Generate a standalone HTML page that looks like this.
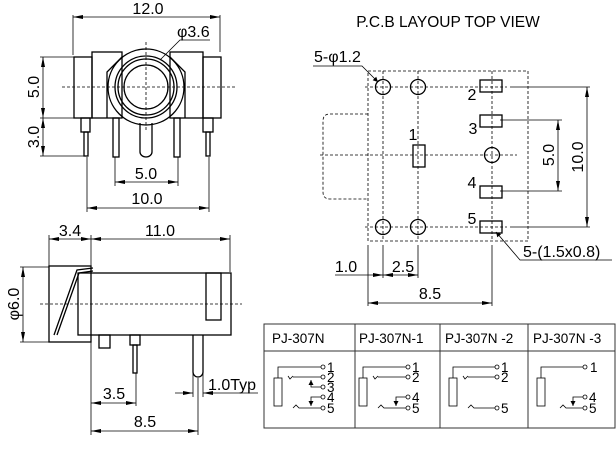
<!DOCTYPE html>
<html><head><style>html,body{margin:0;padding:0;background:#fff}svg{display:block}</style></head><body>
<svg width="616" height="452" viewBox="0 0 616 452" xmlns="http://www.w3.org/2000/svg" font-family="Liberation Sans, sans-serif" fill="none" stroke="#000">
<defs>
<marker id="a" viewBox="0 0 10 4" refX="10" refY="2" markerWidth="10" markerHeight="4" orient="auto-start-reverse" markerUnits="userSpaceOnUse"><path d="M0,0 L10,2 L0,4z" fill="#000" stroke="none"/></marker>
<marker id="s" viewBox="0 0 6 6" refX="6" refY="3" markerWidth="5" markerHeight="5" orient="auto" markerUnits="userSpaceOnUse"><path d="M0,0 L6,3 L0,6z" fill="#000" stroke="none"/></marker>
</defs>
<g stroke-width="0.8">
<line x1="73" y1="15" x2="73" y2="55"/><line x1="220" y1="15" x2="220" y2="52"/>
<line x1="73" y1="17" x2="220" y2="17" marker-start="url(#a)" marker-end="url(#a)"/>
<line x1="40" y1="57" x2="74" y2="57"/><line x1="40" y1="118" x2="74" y2="118"/><line x1="40" y1="156" x2="84" y2="156"/>
<line x1="43" y1="57" x2="43" y2="118" marker-start="url(#a)" marker-end="url(#a)"/>
<line x1="43" y1="118" x2="43" y2="156" marker-start="url(#a)" marker-end="url(#a)"/>
<line x1="115" y1="157" x2="115" y2="186"/><line x1="178" y1="157" x2="178" y2="186"/>
<line x1="115" y1="182" x2="178" y2="182" marker-start="url(#a)" marker-end="url(#a)"/>
<line x1="87" y1="157" x2="87" y2="212"/><line x1="209" y1="157" x2="209" y2="212"/>
<line x1="87" y1="208" x2="209" y2="208" marker-start="url(#a)" marker-end="url(#a)"/>
<polyline points="160,60 180,40 210,40"/>
</g>
<g stroke-width="0.8" stroke-dasharray="3,2"><line x1="62" y1="87" x2="237" y2="87"/><line x1="146" y1="42" x2="146" y2="132"/></g>
<g stroke-width="1.3">
<rect x="74" y="57" width="18" height="61"/><rect x="92" y="52" width="30" height="66"/>
<rect x="170" y="52" width="33" height="66"/><rect x="203" y="57" width="18" height="61"/>
<path d="M107,118 V72 L122,57 M185,118 V72 L170,57" />
<circle cx="146" cy="87" r="38"/><circle cx="146" cy="87" r="31"/><circle cx="146" cy="87" r="28"/><circle cx="146" cy="87" r="22"/>
<rect x="81" y="118" width="9" height="14"/><rect x="84" y="132" width="4" height="24"/>
<rect x="113" y="118" width="6" height="39"/><rect x="174" y="118" width="6" height="39"/>
<path d="M140,123 V152 A6,5 0 0 0 152,152 V123"/>
<rect x="203" y="118" width="10" height="14"/><rect x="206" y="132" width="4" height="24"/>
</g>
<g fill="#000" stroke="none" font-size="16">
<text x="148" y="14" text-anchor="middle">12.0</text>
<text x="177" y="37">φ3.6</text>
<text x="146" y="179" text-anchor="middle">5.0</text>
<text x="147" y="204" text-anchor="middle">10.0</text>
<text transform="translate(39,87) rotate(-90)" text-anchor="middle">5.0</text>
<text transform="translate(39,137) rotate(-90)" text-anchor="middle">3.0</text>
</g>

<g stroke-width="0.8">
<line x1="49" y1="235" x2="49" y2="266"/><line x1="91" y1="235" x2="91" y2="266"/><line x1="230" y1="235" x2="230" y2="272"/>
<line x1="49" y1="239" x2="91" y2="239" marker-start="url(#a)" marker-end="url(#a)"/>
<line x1="91" y1="239" x2="230" y2="239" marker-start="url(#a)" marker-end="url(#a)"/>
<line x1="20" y1="267" x2="49" y2="267"/><line x1="20" y1="342" x2="49" y2="342"/>
<line x1="23" y1="267" x2="23" y2="342" marker-start="url(#a)" marker-end="url(#a)"/>
<line x1="91" y1="342" x2="91" y2="435"/><line x1="136" y1="373" x2="136" y2="406"/>
<line x1="193" y1="372" x2="193" y2="397"/><line x1="203" y1="372" x2="203" y2="397"/><line x1="198" y1="378" x2="198" y2="435"/>
<line x1="91" y1="403" x2="136" y2="403" marker-start="url(#a)" marker-end="url(#a)"/>
<line x1="91" y1="431" x2="198" y2="431" marker-start="url(#a)" marker-end="url(#a)"/>
<line x1="175" y1="393" x2="193" y2="393" marker-end="url(#a)"/>
<line x1="258" y1="393" x2="203" y2="393" marker-end="url(#a)"/>
</g>
<line x1="40" y1="304" x2="242" y2="304" stroke-width="0.8" stroke-dasharray="3,2"/>
<g stroke-width="1.3">
<rect x="49" y="266" width="42" height="76"/>
<rect x="78" y="273" width="153" height="62"/>
<rect x="206" y="273" width="15" height="47"/>
<path d="M54,335 L77,270 L93,268 M57,335 L79,273 L93,271"/>
<rect x="99" y="335" width="11" height="13"/>
<rect x="130" y="335" width="10" height="10"/><rect x="133" y="345" width="4" height="28"/>
<path d="M193,335 V372 A5,5 0 0 0 203,372 V335"/>
</g>
<g fill="#000" stroke="none" font-size="16">
<text x="70" y="236" text-anchor="middle">3.4</text>
<text x="160" y="236" text-anchor="middle">11.0</text>
<text transform="translate(19,304) rotate(-90)" text-anchor="middle">φ6.0</text>
<text x="114" y="399" text-anchor="middle">3.5</text>
<text x="145" y="427" text-anchor="middle">8.5</text>
<text x="208" y="390">1.0Typ</text>
</g>

<text x="448" y="27" text-anchor="middle" font-size="15.5" fill="#000" stroke="none">P.C.B LAYOUP  TOP VIEW</text>
<g stroke-width="0.8" stroke-dasharray="3,2">
<rect x="368" y="71" width="160" height="170"/>
<path d="M368,114 H330 Q323,114 323,121 V192 Q323,199 330,199 H368"/>
<line x1="383" y1="71" x2="383" y2="241"/><line x1="418" y1="71" x2="418" y2="241"/><line x1="492" y1="71" x2="492" y2="241"/>
<line x1="365" y1="87" x2="507" y2="87"/><line x1="365" y1="227" x2="507" y2="227"/><line x1="320" y1="155" x2="517" y2="155"/>
</g>
<g stroke-width="1.3">
<circle cx="383" cy="87" r="7.5"/><circle cx="418" cy="87" r="7.5"/><circle cx="383" cy="227" r="7.5"/><circle cx="418" cy="227" r="7.5"/><circle cx="492" cy="155" r="7.5"/>
<rect x="480" y="80" width="22" height="12"/><rect x="480" y="115" width="22" height="12"/><rect x="480" y="186" width="22" height="12"/><rect x="480" y="221" width="22" height="12"/>
<rect x="413" y="145" width="12" height="22"/>
</g>
<g stroke-width="0.8">
<line x1="510" y1="87" x2="590" y2="87"/><line x1="510" y1="227" x2="590" y2="227"/>
<line x1="587" y1="87" x2="587" y2="227" marker-start="url(#a)" marker-end="url(#a)"/>
<line x1="500" y1="120" x2="562" y2="120"/><line x1="500" y1="191" x2="562" y2="191"/>
<line x1="558" y1="120" x2="558" y2="191" marker-start="url(#a)" marker-end="url(#a)"/>
<polyline points="313,66 362,66 378,82" marker-end="url(#s)"/>
<polyline points="612,260 520,260 496,232" marker-end="url(#s)"/>
<line x1="368" y1="245" x2="368" y2="306"/><line x1="383" y1="245" x2="383" y2="278"/><line x1="418" y1="245" x2="418" y2="278"/><line x1="492" y1="245" x2="492" y2="306"/>
<line x1="335" y1="275" x2="383" y2="275" marker-end="url(#a)"/>
<line x1="383" y1="275" x2="418" y2="275" marker-start="url(#a)" marker-end="url(#a)"/>
<line x1="368" y1="303" x2="492" y2="303" marker-start="url(#a)" marker-end="url(#a)"/>
</g>
<g fill="#000" stroke="none" font-size="16">
<text x="314" y="62">5-φ1.2</text>
<text x="523" y="257">5-(1.5x0.8)</text>
<text x="472" y="100" text-anchor="middle">2</text>
<text x="473" y="134" text-anchor="middle">3</text>
<text x="413" y="140" text-anchor="middle">1</text>
<text x="472" y="188" text-anchor="middle">4</text>
<text x="472" y="224" text-anchor="middle">5</text>
<text x="346" y="272" text-anchor="middle">1.0</text>
<text x="403" y="272" text-anchor="middle">2.5</text>
<text x="430" y="299" text-anchor="middle">8.5</text>
<text transform="translate(583,157) rotate(-90)" text-anchor="middle">10.0</text>
<text transform="translate(554,155) rotate(-90)" text-anchor="middle">5.0</text>
</g>

<g stroke-width="1" stroke="#333">
<rect x="264" y="324" width="351" height="104"/>
<line x1="264" y1="351" x2="615" y2="351"/>
<line x1="355" y1="324" x2="355" y2="428"/><line x1="440" y1="324" x2="440" y2="428"/><line x1="528" y1="324" x2="528" y2="428"/>
</g>
<g fill="#000" stroke="none" font-size="13.5">
<text x="272" y="343">PJ-307N</text><text x="359" y="343">PJ-307N-1</text><text x="445" y="343">PJ-307N -2</text><text x="533" y="343">PJ-307N -3</text>
</g>
<g stroke-width="0.8">
<rect x="274" y="378" width="8" height="28"/>
<polyline points="278,378 278,367 321,367"/><circle cx="323" cy="367" r="2"/>
<polyline points="288,376 290,379 293,376"/><line x1="293" y1="377" x2="321" y2="377"/><circle cx="323" cy="377" r="2"/>
<polyline points="321,387 311,387 311,380" marker-end="url(#s)"/><circle cx="323" cy="387" r="2"/>
<polyline points="321,397 311,397 311,406" marker-end="url(#s)"/><circle cx="323" cy="397" r="2"/>
<polyline points="293,408 296,405 299,408 321,408"/><circle cx="323" cy="408" r="2"/>
<rect x="359" y="378" width="8" height="28"/>
<polyline points="363,378 363,367 406,367"/><circle cx="408" cy="367" r="2"/>
<polyline points="373,376 375,379 378,376"/><line x1="378" y1="377" x2="406" y2="377"/><circle cx="408" cy="377" r="2"/>
<polyline points="406,397 396,397 396,406" marker-end="url(#s)"/><circle cx="408" cy="397" r="2"/>
<polyline points="378,408 381,405 384,408 406,408"/><circle cx="408" cy="408" r="2"/>
<rect x="449" y="378" width="8" height="28"/>
<polyline points="453,378 453,367 495,367"/><circle cx="497" cy="367" r="2"/>
<polyline points="463,376 465,379 468,376"/><line x1="468" y1="377" x2="495" y2="377"/><circle cx="497" cy="377" r="2"/>
<polyline points="468,408 471,405 474,408 495,408"/><circle cx="497" cy="408" r="2"/>
<rect x="537" y="378" width="8" height="28"/>
<polyline points="541,378 541,367 583,367"/><circle cx="585" cy="367" r="2"/>
<polyline points="583,397 573,397 573,406" marker-end="url(#s)"/><circle cx="585" cy="397" r="2"/>
<polyline points="560,408 563,405 566,408 583,408"/><circle cx="585" cy="408" r="2"/>
</g>
<g fill="#000" stroke="none" font-size="13.5">
<text x="327" y="372">1</text><text x="327" y="382">2</text><text x="327" y="392">3</text><text x="327" y="402">4</text><text x="327" y="413">5</text>
<text x="412" y="372">1</text><text x="412" y="382">2</text><text x="412" y="402">4</text><text x="412" y="413">5</text>
<text x="501" y="372">1</text><text x="501" y="382">2</text><text x="501" y="413">5</text>
<text x="590" y="372">1</text><text x="589" y="402">4</text><text x="589" y="413">5</text>
</g>
</svg>
</body></html>
